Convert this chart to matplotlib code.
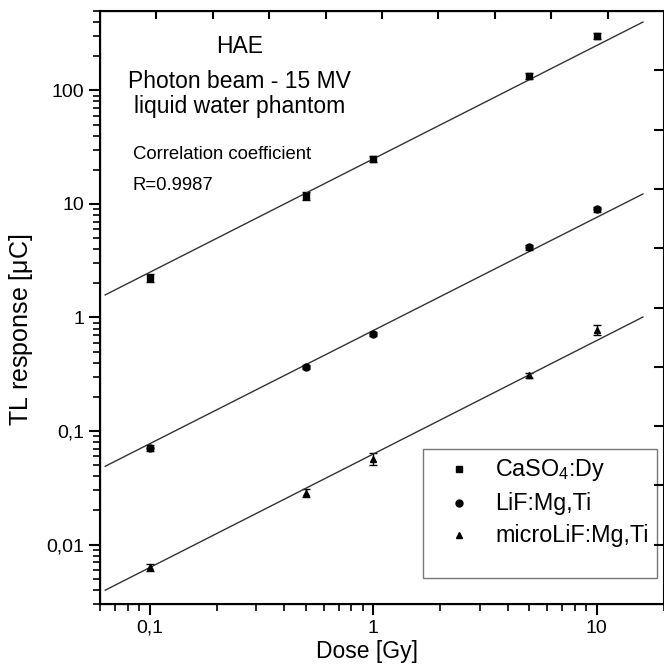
import numpy as np
import matplotlib
matplotlib.use("Agg")
import matplotlib.pyplot as plt
from matplotlib.lines import Line2D
from matplotlib.ticker import LogLocator, FixedLocator, NullFormatter, FuncFormatter

matplotlib.rcParams['font.family'] = ['Liberation Sans', 'DejaVu Sans']
matplotlib.rcParams['mathtext.fontset'] = 'custom'
matplotlib.rcParams['mathtext.rm'] = 'Liberation Sans'
matplotlib.rcParams['mathtext.it'] = 'Liberation Sans'

# dose points [Gy]
dose = [0.1, 0.5, 1, 5, 10]

# TL response [uC] and errors per dosimeter
caso4 = [2.25, 11.8, 24.8, 133, 300]
caso4_err = [0.18, 1.0, 1.4, 8, 18]
lif = [0.071, 0.366, 0.716, 4.15, 8.95]
lif_err = [0.004, 0.015, 0.025, 0.22, 0.45]
microlif = [0.0063, 0.0287, 0.057, 0.311, 0.78]
microlif_err = [0.0004, 0.0022, 0.0065, 0.015, 0.08]

# fitted power law  y = coef * x**slope
fit_coef = [24.9, 0.767, 0.0627]
fit_slope = [0.999, 0.997, 1.0]
fit_range = [0.0633, 16.1]

labels = ['CaSO$_4$:Dy', 'LiF:Mg,Ti', 'microLiF:Mg,Ti']
markers = ['s', 'o', '^']

fig = plt.figure(figsize=(6.64, 6.68), dpi=100)
ax = fig.add_axes([100/664, 64/668, 564/664, 593/668])

series = [(caso4, caso4_err), (lif, lif_err), (microlif, microlif_err)]
xfit = np.array(fit_range)
for (vals, err), m, a, b in zip(series, markers, fit_coef, fit_slope):
    ax.errorbar(dose, vals, yerr=err, fmt=m, color='black', ms=5,
                ecolor='black', elinewidth=1, capsize=3, capthick=1)
    ax.plot(xfit, a * xfit**b, color='#333333', lw=1)

ax.set_xscale('log')
ax.set_yscale('log')
ax.set_xlim(0.06, 20)
ax.set_ylim(0.003, 500)

comma = FuncFormatter(lambda v, pos: ('%g' % v).replace('.', ','))
ax.xaxis.set_major_locator(FixedLocator([0.1, 1, 10]))
ax.yaxis.set_major_locator(FixedLocator([0.01, 0.1, 1, 10, 100]))
ax.xaxis.set_major_formatter(comma)
ax.yaxis.set_major_formatter(comma)
ax.xaxis.set_minor_locator(LogLocator(base=10, subs=np.arange(2, 10), numticks=20))
ax.yaxis.set_minor_locator(LogLocator(base=10, subs=np.arange(2, 10), numticks=20))
ax.xaxis.set_minor_formatter(NullFormatter())
ax.yaxis.set_minor_formatter(NullFormatter())
ax.tick_params(which='major', direction='out', length=8, width=1.5, labelsize=14,
               top=False, right=False)
ax.tick_params(which='minor', direction='out', length=5, width=1.2, top=False, right=False)
for s in ax.spines.values():
    s.set_linewidth(1.5)

# unlabelled ticks on the top and right frame
ax_t = ax.twiny()
ax_t.set_xlim(0, 1)
ax_t.xaxis.set_major_locator(FixedLocator(np.linspace(0, 1, 11)[1:-1]))
ax_t.tick_params(axis='x', direction='in', length=6, width=1.5, labeltop=False)
ax_r = ax.twinx()
ax_r.set_ylim(0, 1)
ax_r.yaxis.set_major_locator(FixedLocator(np.linspace(0, 1, 11)[1:-1]))
ax_r.tick_params(axis='y', direction='in', length=7, width=1.5, labelright=False)

ax.set_xlabel('Dose [Gy]', fontsize=16.5)
ax.xaxis.set_label_coords(0.473, -0.061)
ax.set_ylabel('TL response [$\\mu$C]', fontsize=18)
ax.yaxis.set_label_coords(-0.115, 0.462)

def px(y):
    return (604 - y) / 593

ax.text(0.248, px(53), 'HAE', transform=ax.transAxes, ha='center', va='baseline', fontsize=16.5)
ax.text(0.248, px(88), 'Photon beam - 15 MV', transform=ax.transAxes, ha='center',
        va='baseline', fontsize=16.5)
ax.text(0.248, px(113), 'liquid water phantom', transform=ax.transAxes, ha='center',
        va='baseline', fontsize=16.5)
ax.text(0.0585, px(159), 'Correlation coefficient', transform=ax.transAxes,
        ha='left', va='baseline', fontsize=13.3)
ax.text(0.0585, px(190), 'R=0.9987', transform=ax.transAxes,
        ha='left', va='baseline', fontsize=13.3)

handles = [Line2D([], [], marker=m, ls='none', color='black', ms=5) for m in markers]
handles.append(Line2D([], [], ls='none'))
leg = ax.legend(handles, labels + [' '], loc='lower right', bbox_to_anchor=(0.9876, 0.0438),
                fontsize=16.8, frameon=True, fancybox=False, edgecolor='#555555',
                borderpad=0.36, labelspacing=0.386, handletextpad=0.33,
                handlelength=2.4, handleheight=0.3, borderaxespad=0)
leg.get_texts()[-1].set_fontsize(1)
leg.get_frame().set_linewidth(1)
leg.set_zorder(5)

fig.savefig('out.png', dpi=100)
